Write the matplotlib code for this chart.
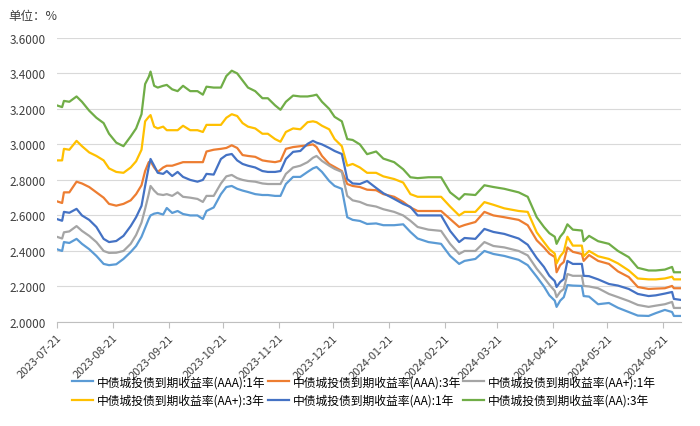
import pandas as pd
import matplotlib
matplotlib.use("Agg")
import matplotlib.pyplot as plt
import matplotlib.dates as mdates

plt.rcParams['font.family'] = ['Noto Sans CJK SC', 'DejaVu Sans']

# 数据
dates = ["2023-07-21", "2023-07-24", "2023-07-25", "2023-07-28", "2023-08-01", "2023-08-04",
         "2023-08-08", "2023-08-12", "2023-08-16", "2023-08-19", "2023-08-23", "2023-08-27",
         "2023-08-31", "2023-09-03", "2023-09-06", "2023-09-08", "2023-09-10", "2023-09-11",
         "2023-09-13", "2023-09-15", "2023-09-18", "2023-09-20", "2023-09-23", "2023-09-26",
         "2023-09-29", "2023-10-03", "2023-10-07", "2023-10-10", "2023-10-12", "2023-10-16",
         "2023-10-20", "2023-10-23", "2023-10-26", "2023-10-29", "2023-11-01", "2023-11-04",
         "2023-11-08", "2023-11-12", "2023-11-15", "2023-11-19", "2023-11-22", "2023-11-25",
         "2023-11-29", "2023-12-03", "2023-12-07", "2023-12-10", "2023-12-12", "2023-12-15",
         "2023-12-19", "2023-12-22", "2023-12-26", "2023-12-29", "2024-01-01", "2024-01-05",
         "2024-01-09", "2024-01-14", "2024-01-18", "2024-01-24", "2024-01-29", "2024-02-02",
         "2024-02-06", "2024-02-12", "2024-02-19", "2024-02-24", "2024-02-29", "2024-03-03",
         "2024-03-09", "2024-03-14", "2024-03-19", "2024-03-25", "2024-04-02", "2024-04-07",
         "2024-04-12", "2024-04-16", "2024-04-19", "2024-04-22", "2024-04-23", "2024-04-25",
         "2024-04-27", "2024-04-29", "2024-05-02", "2024-05-07", "2024-05-08", "2024-05-11",
         "2024-05-16", "2024-05-22", "2024-05-27", "2024-06-02", "2024-06-07", "2024-06-13",
         "2024-06-17", "2024-06-22", "2024-06-26", "2024-06-27", "2024-07-01"]

aaa_1y = [2.41, 2.40, 2.45, 2.445, 2.468, 2.44, 2.41, 2.372, 2.327, 2.32, 2.325, 2.355,
          2.394, 2.428, 2.48, 2.53, 2.58, 2.60, 2.61, 2.614, 2.605, 2.642, 2.614, 2.625,
          2.608, 2.60, 2.60, 2.58, 2.625, 2.645, 2.72, 2.76, 2.766, 2.75, 2.74, 2.732,
          2.72, 2.715, 2.715, 2.71, 2.71, 2.777, 2.817, 2.817, 2.845, 2.865, 2.873, 2.845,
          2.794, 2.766, 2.75, 2.59, 2.575, 2.569, 2.552, 2.555, 2.545, 2.545, 2.55, 2.507,
          2.47, 2.45, 2.44, 2.372, 2.327, 2.344, 2.355, 2.40, 2.383, 2.372, 2.35, 2.32,
          2.255, 2.20, 2.15, 2.12, 2.085, 2.12, 2.14, 2.208, 2.205, 2.203, 2.146, 2.143,
          2.10, 2.107, 2.08, 2.056, 2.036, 2.034, 2.05, 2.068, 2.056, 2.034, 2.034]

aaa_3y = [2.68, 2.67, 2.73, 2.73, 2.79, 2.78, 2.76, 2.73, 2.70, 2.665, 2.655, 2.665,
          2.685, 2.72, 2.77, 2.85, 2.90, 2.905, 2.87, 2.845, 2.87, 2.88, 2.88, 2.89,
          2.90, 2.90, 2.90, 2.90, 2.96, 2.97, 2.975, 2.98, 2.995, 2.98, 2.94, 2.935,
          2.93, 2.91, 2.905, 2.90, 2.907, 2.975, 2.985, 2.99, 2.995, 3.00, 2.985, 2.935,
          2.89, 2.873, 2.85, 2.777, 2.766, 2.76, 2.745, 2.742, 2.72, 2.705, 2.676, 2.645,
          2.625, 2.625, 2.625, 2.58, 2.535, 2.546, 2.563, 2.62, 2.60, 2.59, 2.575, 2.545,
          2.46, 2.42, 2.385, 2.366, 2.28, 2.32, 2.338, 2.42, 2.395, 2.383, 2.344, 2.377,
          2.344, 2.327, 2.285, 2.253, 2.197, 2.186, 2.188, 2.19, 2.203, 2.19, 2.19]

aap_1y = [2.48, 2.47, 2.505, 2.51, 2.54, 2.513, 2.485, 2.45, 2.40, 2.389, 2.39, 2.40,
          2.44, 2.49, 2.56, 2.637, 2.72, 2.766, 2.74, 2.72, 2.715, 2.72, 2.71, 2.73,
          2.705, 2.70, 2.693, 2.676, 2.71, 2.71, 2.78, 2.82, 2.828, 2.81, 2.80, 2.794,
          2.79, 2.78, 2.777, 2.777, 2.777, 2.834, 2.87, 2.88, 2.90, 2.925, 2.935, 2.907,
          2.88, 2.862, 2.845, 2.71, 2.685, 2.676, 2.659, 2.65, 2.635, 2.62, 2.60, 2.57,
          2.535, 2.52, 2.513, 2.44, 2.383, 2.40, 2.40, 2.45, 2.428, 2.42, 2.40, 2.375,
          2.30, 2.25, 2.21, 2.175, 2.14, 2.17, 2.186, 2.27, 2.26, 2.26, 2.203, 2.20,
          2.19, 2.158, 2.14, 2.118, 2.096, 2.085, 2.092, 2.10, 2.113, 2.079, 2.079]

aap_3y = [2.91, 2.91, 2.975, 2.97, 3.02, 2.99, 2.955, 2.935, 2.91, 2.865, 2.845, 2.84,
          2.87, 2.905, 2.97, 3.13, 3.155, 3.165, 3.10, 3.09, 3.10, 3.08, 3.08, 3.08,
          3.105, 3.08, 3.08, 3.07, 3.11, 3.11, 3.11, 3.15, 3.17, 3.16, 3.12, 3.10,
          3.09, 3.06, 3.06, 3.03, 3.015, 3.07, 3.09, 3.085, 3.125, 3.13, 3.125, 3.105,
          3.085, 3.03, 2.99, 2.88, 2.89, 2.87, 2.84, 2.84, 2.82, 2.805, 2.785, 2.72,
          2.705, 2.705, 2.705, 2.65, 2.60, 2.62, 2.62, 2.675, 2.66, 2.64, 2.625, 2.62,
          2.505, 2.45, 2.41, 2.385, 2.33, 2.37, 2.395, 2.48, 2.43, 2.43, 2.37, 2.40,
          2.37, 2.355, 2.33, 2.29, 2.245, 2.24, 2.24, 2.245, 2.255, 2.24, 2.24]

aa_1y = [2.58, 2.57, 2.62, 2.615, 2.637, 2.60, 2.575, 2.535, 2.468, 2.45, 2.456, 2.485,
         2.54, 2.59, 2.654, 2.766, 2.873, 2.918, 2.88, 2.84, 2.834, 2.85, 2.822, 2.845,
         2.817, 2.80, 2.79, 2.80, 2.834, 2.83, 2.918, 2.94, 2.946, 2.91, 2.89, 2.88,
         2.87, 2.85, 2.845, 2.845, 2.85, 2.918, 2.958, 2.963, 3.003, 3.02, 3.01, 3.00,
         2.98, 2.963, 2.946, 2.805, 2.78, 2.777, 2.794, 2.755, 2.725, 2.693, 2.665, 2.648,
         2.60, 2.60, 2.60, 2.513, 2.45, 2.473, 2.468, 2.524, 2.507, 2.496, 2.47, 2.435,
         2.36, 2.31, 2.26, 2.23, 2.197, 2.225, 2.242, 2.344, 2.327, 2.327, 2.26, 2.258,
         2.24, 2.214, 2.205, 2.186, 2.158, 2.146, 2.15, 2.16, 2.169, 2.13, 2.124]

aa_3y = [3.22, 3.21, 3.245, 3.24, 3.27, 3.24, 3.19, 3.15, 3.12, 3.06, 3.01, 2.99,
         3.045, 3.09, 3.17, 3.34, 3.38, 3.41, 3.33, 3.32, 3.33, 3.335, 3.31, 3.30,
         3.33, 3.30, 3.30, 3.28, 3.325, 3.32, 3.32, 3.385, 3.415, 3.40, 3.36, 3.32,
         3.30, 3.26, 3.26, 3.22, 3.195, 3.24, 3.275, 3.27, 3.27, 3.275, 3.28, 3.24,
         3.20, 3.155, 3.13, 3.03, 3.025, 3.00, 2.945, 2.96, 2.92, 2.90, 2.86, 2.815,
         2.81, 2.815, 2.815, 2.73, 2.69, 2.72, 2.715, 2.77, 2.76, 2.75, 2.73, 2.705,
         2.59, 2.535, 2.50, 2.48, 2.44, 2.48, 2.505, 2.55, 2.52, 2.515, 2.455, 2.485,
         2.455, 2.44, 2.40, 2.365, 2.305, 2.29, 2.29, 2.295, 2.31, 2.28, 2.28]

labels = ["中债城投债到期收益率(AAA):1年", "中债城投债到期收益率(AAA):3年",
          "中债城投债到期收益率(AA+):1年", "中债城投债到期收益率(AA+):3年",
          "中债城投债到期收益率(AA):1年", "中债城投债到期收益率(AA):3年"]
colors = ["#5B9BD5", "#ED7D31", "#A5A5A5", "#FFC000", "#4472C4", "#70AD47"]

x = pd.to_datetime(dates)
series = [aaa_1y, aaa_3y, aap_1y, aap_3y, aa_1y, aa_3y]

fig, ax = plt.subplots(figsize=(7, 4.27), dpi=100)
fig.subplots_adjust(left=0.081, right=0.973, top=0.909, bottom=0.2436)

lines = []
for s, lab, c in zip(series, labels, colors):
    ln, = ax.plot(x, s, color=c, linewidth=1.6, label=lab)
    lines.append(ln)

ax.set_ylim(2.0, 3.6)
ax.set_yticks([2.0, 2.2, 2.4, 2.6, 2.8, 3.0, 3.2, 3.4, 3.6])
ax.yaxis.set_major_formatter(matplotlib.ticker.FormatStrFormatter('%.4f'))
ax.set_xlim(x[0], x[-1])

# 每月21日一个刻度
tick_dates = pd.date_range("2023-07-01", "2024-06-01", freq="MS") + pd.Timedelta(days=20)
ax.set_xticks(tick_dates)
ax.xaxis.set_major_formatter(mdates.DateFormatter('%Y-%m-%d'))
plt.setp(ax.get_xticklabels(), rotation=45, ha='right', rotation_mode='anchor')

ax.grid(axis='y', color='#d9d9d9', linewidth=0.8)
ax.set_axisbelow(True)
for side in ['top', 'right', 'left']:
    ax.spines[side].set_visible(False)
ax.spines['bottom'].set_color('#bfbfbf')
ax.tick_params(axis='y', length=0, labelsize=8.5, colors='#404040', pad=8)
ax.tick_params(axis='x', length=4, color='#bfbfbf', labelsize=8, labelcolor='#404040')

fig.text(0.012, 0.962, "单位：%", fontsize=9, color='#404040', va='center')

order = [0, 3, 1, 4, 2, 5]
fig.legend([lines[i] for i in order], [labels[i] for i in order], ncol=3,
           loc='center', bbox_to_anchor=(0.52, 0.082), frameon=False, fontsize=8.5,
           handlelength=1.8, handletextpad=0.3, columnspacing=0.2, labelspacing=0.5)

fig.savefig("out.png", dpi=100)
